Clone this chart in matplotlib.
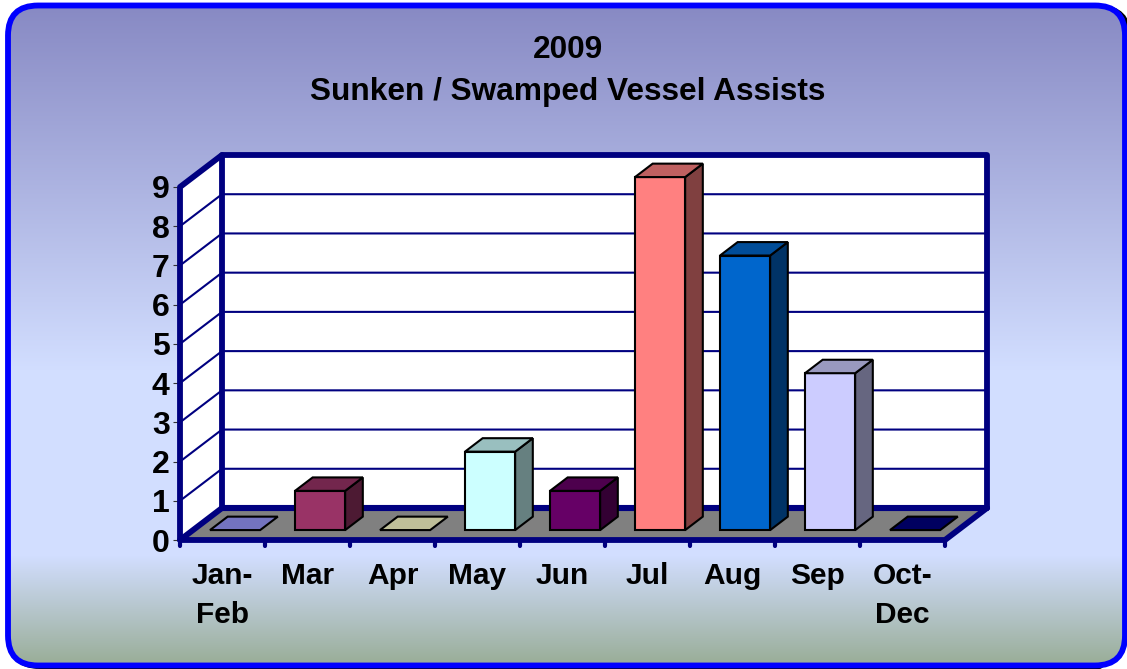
import numpy as np
import matplotlib
matplotlib.use("Agg")
import matplotlib.pyplot as plt
from matplotlib.colors import to_rgb
from matplotlib.markers import MarkerStyle, TICKDOWN
from matplotlib.patches import FancyBboxPatch, Polygon

categories = ["Jan-\nFeb", "Mar", "Apr", "May", "Jun", "Jul", "Aug", "Sep", "Oct-\nDec"]
assists = [0, 1, 0, 2, 1, 9, 7, 4, 0]
bar_colors = ["#9999FF", "#993366", "#FFFFCC", "#CCFFFF", "#660066",
              "#FF8080", "#0066CC", "#CCCCFF", "#000080"]
y_ticks = list(range(10))

W, H = 1127, 669
NAVY = "#000080"
plt.rcParams["font.family"] = ["Liberation Sans", "DejaVu Sans"]

fig = plt.figure(figsize=(W / 100, H / 100), dpi=100, facecolor="white")

# background panel, in pixel coordinates
bg = fig.add_axes([0, 0, 1, 1], zorder=0)
bg.set_xlim(0, W)
bg.set_ylim(H, 0)
bg.axis("off")
stop_y = [8, 370, 555, 660]
stop_rgb = np.array([[136, 138, 196], [210, 222, 255], [210, 222, 255], [155, 175, 155]]) / 255
rows = np.arange(H)
grad = np.stack([np.interp(rows, stop_y, stop_rgb[:, i]) for i in range(3)], axis=1)[:, None, :]
box = "round,pad=0,rounding_size=30"
bg.add_patch(FancyBboxPatch((10, 7.5), W - 8, H - 10, boxstyle=box, fc="none", ec="black", lw=3.6, zorder=1))
img = bg.imshow(grad, extent=(0, W, H, 0), aspect="auto", zorder=2)
panel = FancyBboxPatch((8, 5.5), W - 10, H - 9, boxstyle=box, fc="none", ec="#0000FF", lw=4.2, zorder=3)
bg.add_patch(panel)
img.set_clip_path(panel)

# axes sit on the front plane of the box
ax = fig.add_axes([180 / W, (H - 540) / H, 765 / W, 353 / H], zorder=1)
ax.set_xlim(0, len(categories))
ax.set_ylim(0, 9)
ax.patch.set_visible(False)
for s in ax.spines.values():
    s.set_visible(False)

# depth direction, data units per full box depth
dx = 42 / 85
dy = 32 / (353 / 9)


def proj(x, y, d):
    return (x + d * dx, y + d * dy)


def face(points, color, z, ec="none", lw=0):
    ax.add_patch(Polygon(points, closed=True, fc=color, ec=ec, lw=lw, clip_on=False,
                         zorder=z, joinstyle="miter"))


def wall_line(points, lw=4.2, z=3):
    xs, ys = zip(*points)
    ax.plot(xs, ys, color=NAVY, lw=lw, clip_on=False, zorder=z, solid_capstyle="round",
            solid_joinstyle="round")


n = len(categories)
face([proj(0, 0, 1), proj(n, 0, 1), proj(n, 9, 1), proj(0, 9, 1)], "white", 1)
face([proj(0, 0, 0), proj(0, 0, 1), proj(0, 9, 1), proj(0, 9, 0)], "white", 1)
face([proj(0, 0, 0), proj(n, 0, 0), proj(n, 0, 1), proj(0, 0, 1)], "#808080", 1)

for v in y_ticks[1:-1]:
    wall_line([proj(0, v, 0), proj(0, v, 1), proj(n, v, 1)], lw=1.5, z=2)

wall_line([proj(0, 0, 1), proj(n, 0, 1)], lw=4.4)
wall_line([proj(n, 0, 1), proj(n, 9, 1), proj(0, 9, 1), proj(0, 0, 1)])
wall_line([proj(0, 0, 0), proj(0, 9, 0), proj(0, 9, 1)])
wall_line([proj(0, 0, 1), proj(0, 0, 0), proj(n, 0, 0), proj(n, 0, 1)])

# 3d bars
d0, d1 = 0.31, 0.73
bar_w = 0.59
for i, (val, col) in enumerate(zip(assists, bar_colors)):
    rgb = np.array(to_rgb(col))
    l, r = i + 0.2, i + 0.2 + bar_w
    z = 5 + i
    if val > 0:
        face([proj(l, 0, d0), proj(r, 0, d0), proj(r, val, d0), proj(l, val, d0)], rgb, z, "black", 1.5)
        face([proj(r, 0, d0), proj(r, 0, d1), proj(r, val, d1), proj(r, val, d0)], rgb * 0.5, z, "black", 1.5)
    face([proj(l, val, d0), proj(r, val, d0), proj(r, val, d1), proj(l, val, d1)], rgb * 0.75, z, "black", 1.5)

# ticks and labels
ax.set_yticks(y_ticks)
ax.set_yticklabels([str(v) for v in y_ticks], fontsize=23, fontweight="bold", color="black")
ax.tick_params(axis="y", length=5, width=0.8, color="#333333", pad=2.5)

ax.set_xticks(np.arange(n + 1))
ax.set_xticklabels([""] * (n + 1))
ax.set_xticks(np.arange(n) + 0.5, minor=True)
ax.set_xticklabels(categories, minor=True, fontsize=21.5, fontweight="bold", linespacing=1.5)
ax.tick_params(axis="x", which="minor", length=0, pad=16)
ax.tick_params(axis="x", which="major", length=4, width=3, color=NAVY)
for tick in ax.xaxis.get_major_ticks():
    tick.tick1line.set_marker(MarkerStyle(TICKDOWN, capstyle="round"))
    tick.tick1line.set_zorder(2)

fig.text(568 / W, 1 - 71 / H, "2009\nSunken / Swamped Vessel Assists", ha="center", va="center",
         fontsize=22.8, fontweight="bold", color="black", linespacing=1.55)

fig.savefig("out.png", dpi=100)
